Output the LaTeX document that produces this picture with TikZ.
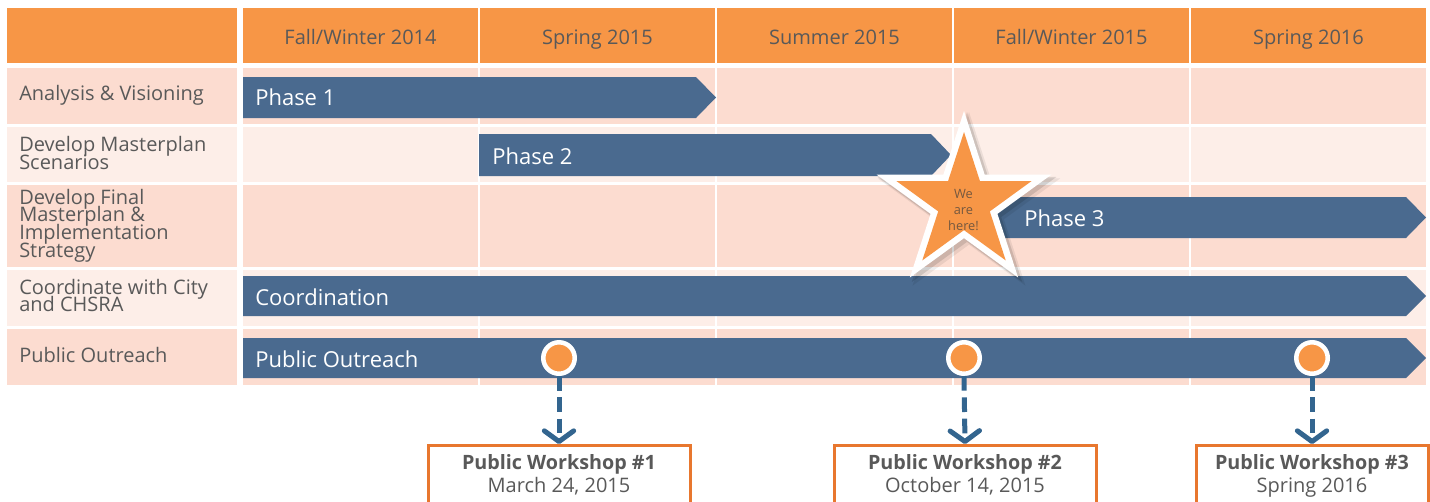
\documentclass[tikz,border=0pt]{standalone}
\usepackage{fontspec}
\setmainfont{Open Sans}
\usetikzlibrary{arrows.meta}
\definecolor{hdr}{HTML}{F79646}
\definecolor{rowA}{HTML}{FCDCD0}
\definecolor{rowB}{HTML}{FDEEE8}
\definecolor{barc}{HTML}{4A6A8F}
\definecolor{txt}{HTML}{595959}
\definecolor{dashc}{HTML}{33658F}
\definecolor{boxline}{HTML}{E8772E}
\definecolor{startxt}{HTML}{75583F}
\newcommand{\mytightlines}{\setlength{\lineskiplimit}{-20pt}\setlength{\lineskip}{0pt}}
\begin{document}
\begin{tikzpicture}[x=0.75pt,y=-0.75pt,
  hdrtext/.style={anchor=base,text=txt,font=\fontsize{15}{18}\selectfont,inner sep=0pt},
  rowtext/.style={anchor=west,align=left,text=txt,font={\fontsize{15}{13.3}\selectfont\mytightlines},inner sep=0pt},
  bartext/.style={anchor=base west,text=white,font=\fontsize{16.5}{20}\selectfont,inner sep=0pt},
  dot/.style={circle,fill=hdr,draw=white,line width=3.4pt,minimum size=23.6pt,inner sep=0pt},
  wsbox/.style={draw=boxline,line width=2.25pt,fill=white,minimum height=75pt,inner sep=0pt,anchor=north},
  wstitle/.style={anchor=base,text=txt,font=\bfseries\fontsize{14.8}{17}\selectfont,inner sep=0pt},
  wsdate/.style={anchor=base,text=txt,font=\fontsize{15}{18}\selectfont,inner sep=0pt},
  dashline/.style={draw=dashc,line width=3.75pt,dash pattern=on 11pt off 5pt,
     -{Straight Barb[length=8pt,width=22pt,line cap=round,line join=round]}},
]
\useasboundingbox (0,0) rectangle (1430,501);
\fill[white] (0,0) rectangle (1430,501);

% grid of cells
\foreach \t/\b/\c in {8/63/hdr,68/123.5/rowA,126.5/181.5/rowB,185/267/rowA,270/326/rowB,329/385/rowA}{
  \fill[\c] (7,\t) rectangle (237,\b);
  \foreach \i in {0,...,4}{
    \fill[\c] ({243+237*\i},\t) rectangle ({478+237*\i},\b);
  }
}

% header texts
\node[hdrtext] (h1) at (360.5,44.5) {Fall/Winter 2014};
\node[hdrtext] (h2) at (597.5,44.5) {Spring 2015};
\node[hdrtext] (h3) at (834.5,44.5) {Summer 2015};
\node[hdrtext] (h4) at (1071.5,44.5) {Fall/Winter 2015};
\node[hdrtext] (h5) at (1308.5,44.5) {Spring 2016};

% row labels
\node[rowtext] (r1) at (19,95.5) {Analysis \& Visioning};
\node[rowtext] (r2) at (19,153) {Develop Masterplan\\Scenarios};
\node[rowtext] (r3) at (19,225.5) {Develop Final\\Masterplan \&\\Implementation\\Strategy};
\node[rowtext] (r4) at (19,295.5) {Coordinate with City\\and CHSRA};
\node[rowtext] (r5) at (19,354.5) {Public Outreach};

% bars
\fill[barc] (243,77) -- (696,77) -- (716,97.5) -- (696,118) -- (243,118) -- cycle;
\fill[barc] (479,134) -- (931,134) -- (951,155) -- (931,176) -- (479,176) -- cycle;
\fill[barc] (954,197) -- (1406,197) -- (1426,217.5) -- (1406,238) -- (954,238) -- cycle;
\fill[barc] (243,276) -- (1406,276) -- (1426,296) -- (1406,316) -- (243,316) -- cycle;
\fill[barc] (243,338) -- (1406,338) -- (1426,358) -- (1406,378) -- (243,378) -- cycle;

\node[bartext] (p1) at (255,105.5) {Phase 1};
\node[bartext] (p2) at (492,164) {Phase 2};
\node[bartext] (p3) at (1024,226) {Phase 3};
\node[bartext] (p4) at (255,305) {Coordination};
\node[bartext] (p5) at (255,367) {Public Outreach};

% star (shadow, white border, orange body)
\foreach \R/\cc/\dx/\dy/\op in {96/black/5/5/0.07,94/black/3/3/0.12,92/white/0/0/1,71/hdr/0/0/1}{
  \fill[\cc,opacity=\op]
    ({964+\dx+\R*cos(-90)},{203+\dy+\R*sin(-90)})
    \foreach \k in {1,...,9}{
      -- ({964+\dx+(\R*(1-0.618*mod(\k,2)))*cos(-90+36*\k)},{203+\dy+(\R*(1-0.618*mod(\k,2)))*sin(-90+36*\k)})
    } -- cycle;
}
\node[align=center,text=startxt,font={\fontsize{9.6}{11.8}\selectfont\mytightlines},inner sep=0pt] (here) at (963.5,210) {We\\are\\here!};

% workshop dots
\node[dot] (c1) at (559,358) {};
\node[dot] (c2) at (964,358) {};
\node[dot] (c3) at (1312,358) {};

% workshop boxes
\node[wsbox,minimum width=196.5pt] (b1) at (559,444) {};
\node[wsbox,minimum width=196.5pt] (b2) at (965,444) {};
\node[wsbox,minimum width=174pt] (b3) at (1312,444) {};

\node[wstitle] (b1t) at (559,469) {Public Workshop \#1};
\node[wsdate] (b1d) at (559,492) {March 24, 2015};
\node[wstitle] (b2t) at (965,469) {Public Workshop \#2};
\node[wsdate] (b2d) at (965,492) {October 14, 2015};
\node[wstitle] (b3t) at (1312,469) {Public Workshop \#3};
\node[wsdate] (b3d) at (1312,492) {Spring 2016};

% connectors
\draw[dashline] (c1.south) -- (b1.north);
\draw[dashline] (c2.south) -- (b2.north);
\draw[dashline] (c3.south) -- (b3.north);
\end{tikzpicture}
\end{document}
